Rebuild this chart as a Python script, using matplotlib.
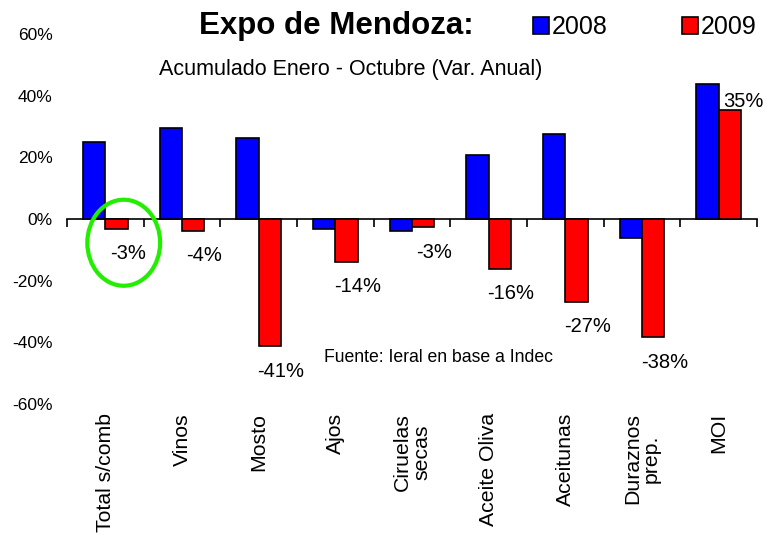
import numpy as np
import matplotlib
matplotlib.use("Agg")
import matplotlib.pyplot as plt
from matplotlib.patches import Patch, Ellipse
from matplotlib.ticker import FuncFormatter
import matplotlib.transforms as mtransforms

plt.rcParams['font.family'] = ['Liberation Sans', 'DejaVu Sans']

categories = ["Total s/comb", "Vinos", "Mosto", "Ajos", "Ciruelas\nsecas",
              "Aceite Oliva", "Aceitunas", "Duraznos\nprep.", "MOI"]
vals_2008 = [24.9, 29.4, 26.2, -3.3, -3.8, 20.9, 27.5, -6.0, 43.7]
vals_2009 = [-3.2, -3.8, -41.3, -14.0, -2.7, -16.2, -26.8, -38.4, 35.4]
series_names = ["2008", "2009"]
y_ticks = [-60, -40, -20, 0, 20, 40, 60]

BLUE = "#0000FF"
RED = "#FF0000"

fig = plt.figure(figsize=(7.67, 5.37), dpi=100)
ax = fig.add_axes([67/767, 1-404/537, 690/767, 370/537])

x = np.arange(len(categories))
w = 0.293
ax.bar(x - w/2, vals_2008, width=w, color=BLUE, edgecolor="black", linewidth=1.2, zorder=3)
ax.bar(x + w/2, vals_2009, width=w, color=RED, edgecolor="black", linewidth=1.2, zorder=3)

ax.set_xlim(-0.5, len(categories) - 0.5)
ax.set_ylim(-60, 60)

# y axis: no line, no ticks
ax.set_yticks(y_ticks)
ax.yaxis.set_major_formatter(FuncFormatter(lambda v, p: f"{v:.0f}%"))
ax.tick_params(axis='y', length=0, pad=10.5, labelsize=12.5)
for s in ['left', 'right', 'top']:
    ax.spines[s].set_visible(False)

# x axis line at zero with boundary ticks
ax.spines['bottom'].set_position(('data', 0))
ax.spines['bottom'].set_linewidth(1.2)
ax.set_xticks(np.arange(len(categories) + 1) - 0.5)
ax.set_xticklabels([])
ax.tick_params(axis='x', direction='out', length=6, width=1.2)

# category labels at bottom of the plot area
trans = mtransforms.blended_transform_factory(ax.transData, ax.transAxes)
for xi, c in zip(x, categories):
    ax.text(xi, -0.024, c, transform=trans, rotation=90, ha='center', va='top',
            fontsize=15.3, multialignment='center', linespacing=1.0)

# data labels for 2009
for xi, v in zip(x, vals_2009):
    if v < 0:
        ax.annotate(f"{v:.0f}%", (xi + w/2, v), xytext=(8, -11), textcoords='offset points',
                    ha='center', va='top', fontsize=14.5)
    else:
        ax.annotate(f"{v:.0f}%", (xi + w/2, v), xytext=(10, -1), textcoords='offset points',
                    ha='center', va='bottom', fontsize=14.5)

# green highlight around first label
ell = Ellipse((x[0] + 0.24, vals_2009[0] - 4.5), 0.95, 27.9, fill=False,
              edgecolor="#22EE00", linewidth=3, zorder=5, clip_on=False)
ax.add_patch(ell)

# titles
fig.text(336/767, 1-26/537, "Expo de Mendoza:", ha='center', va='center',
         fontsize=22.5, fontweight='bold')
fig.text(351/767, 1-70/537, "Acumulado Enero - Octubre (Var. Anual)", ha='center',
         va='center', fontsize=15.5)
fig.text(438/767, 1-357/537, "Fuente: Ieral en base a Indec", ha='center', va='center',
         fontsize=12.7)

handles = [Patch(facecolor=BLUE, edgecolor='black', linewidth=1.2),
           Patch(facecolor=RED, edgecolor='black', linewidth=1.2)]
fig.legend(handles, series_names, loc='center left', bbox_to_anchor=(533/767, 1-27/537),
           ncol=2, frameon=False, fontsize=18, handlelength=0.62, handleheight=0.7,
           handletextpad=0.12, columnspacing=3.0, borderpad=0, borderaxespad=0)

fig.savefig("out.png", dpi=100)
